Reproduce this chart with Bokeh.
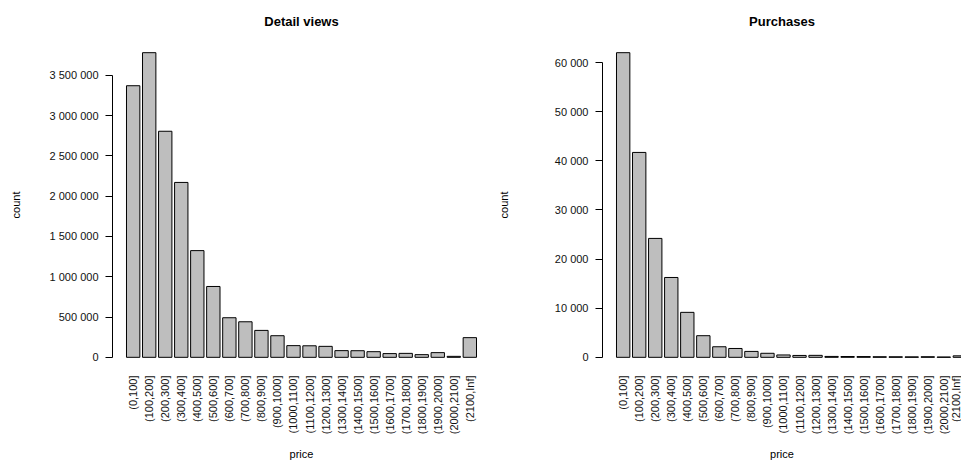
import math

from bokeh.plotting import figure
from bokeh.layouts import row
from bokeh.models import Range1d, FixedTicker, Title, CustomJSTickFormatter
from bokeh.embed import file_html
from bokeh.resources import INLINE

# Price bins (right-closed intervals)
price_bins = [
    "(0,100]", "(100,200]", "(200,300]", "(300,400]", "(400,500]", "(500,600]",
    "(600,700]", "(700,800]", "(800,900]", "(900,1000]", "(1000,1100]", "(1100,1200]",
    "(1200,1300]", "(1300,1400]", "(1400,1500]", "(1500,1600]", "(1600,1700]",
    "(1700,1800]", "(1800,1900]", "(1900,2000]", "(2000,2100]", "(2100,Inf]",
]

# Counts per price bin
detail_views = [
    3370000, 3780000, 2805000, 2170000, 1324000, 879000, 491000, 441000,
    334000, 268000, 145000, 143000, 136000, 83000, 82000, 70000, 46000,
    49000, 33000, 58000, 12000, 244000,
]
purchases = [
    62000, 41700, 24200, 16250, 9150, 4400, 2150, 1800, 1200, 820, 480,
    380, 400, 180, 160, 150, 120, 110, 90, 120, 60, 300,
]

detail_ticks = [0, 500000, 1000000, 1500000, 2000000, 2500000, 3000000, 3500000]
purchase_ticks = [0, 10000, 20000, 30000, 40000, 50000, 60000]

FONT = "Liberation Sans"
BAR_W, SPACE = 1.0, 0.2
n = len(price_bins)
centers = [SPACE + BAR_W / 2 + i * (BAR_W + SPACE) for i in range(n)]
x_lo_edge = SPACE
x_hi_edge = n * (BAR_W + SPACE)
pad = 0.04 * (x_hi_edge - x_lo_edge)
x_start, x_end = x_lo_edge - pad, x_hi_edge + pad

H = 468
BORDER_TOP, BORDER_BOTTOM, BORDER_LEFT = 39, 99, 112
FULL_FRAME_W = 378
px_per_unit = FULL_FRAME_W / (x_end - x_start)

xfmt = CustomJSTickFormatter(
    args=dict(labels=price_bins, first=centers[0], step=BAR_W + SPACE),
    code="const i = Math.round((tick - first) / step); return labels[i] || '';",
)
yfmt = CustomJSTickFormatter(
    code="return Math.round(tick).toString().replace(/\\B(?=(\\d{3})+(?!\\d))/g, ' ');"
)


def panel(title, values, yticks, width, count_standoff, center_shift):
    frame_w = width - BORDER_LEFT
    xr = Range1d(x_start, x_start + frame_w / px_per_unit)
    vmax = max(values)
    yr = Range1d(-0.04 * vmax, 1.04 * vmax)
    p = figure(
        width=width, height=H, x_range=xr, y_range=yr,
        output_backend="svg", toolbar_location=None,
        min_border_left=BORDER_LEFT, min_border_right=0,
        min_border_top=BORDER_TOP, min_border_bottom=BORDER_BOTTOM,
        outline_line_color=None, background_fill_color="white",
        border_fill_color="white",
    )
    p.grid.visible = False
    p.vbar(x=centers, top=values, bottom=0, width=BAR_W,
           fill_color="#bebebe", line_color="black", line_width=1)

    p.title.text = title
    p.title.align = "center"
    p.title.text_font = FONT
    p.title.text_font_size = "13px"
    p.title.text_font_style = "bold"
    p.title.text_color = "black"
    p.title.standoff = 23
    p.title.offset = center_shift

    xa = p.xaxis[0]
    xa.ticker = FixedTicker(ticks=centers)
    xa.formatter = xfmt
    xa.major_label_orientation = math.pi / 2
    xa.axis_line_color = None
    xa.major_tick_line_color = None
    xa.minor_tick_line_color = None
    xa.major_tick_out = 0
    xa.major_tick_in = 0
    xa.major_label_standoff = 6
    xa.major_label_text_font = FONT
    xa.major_label_text_font_size = "11px"
    xa.major_label_text_color = "#111111"

    ya = p.yaxis[0]
    ya.ticker = FixedTicker(ticks=yticks)
    ya.formatter = yfmt
    ya.bounds = (yticks[0], yticks[-1])
    ya.axis_line_color = "black"
    ya.major_tick_line_color = "black"
    ya.minor_tick_line_color = None
    ya.major_tick_out = 7
    ya.major_tick_in = 0
    ya.major_label_standoff = 7
    ya.major_label_text_font = FONT
    ya.major_label_text_font_size = "11px"
    ya.major_label_text_color = "#111111"
    ya.axis_label = "count"
    ya.axis_label_text_font = FONT
    ya.axis_label_text_font_size = "11px"
    ya.axis_label_text_font_style = "normal"
    ya.axis_label_text_color = "black"
    ya.axis_label_standoff = count_standoff

    p.add_layout(Title(text="price", align="center", offset=center_shift,
                       text_font=FONT, text_font_size="11px",
                       text_font_style="normal", text_color="black",
                       standoff=17), "below")
    return p


left = panel("Detail views", detail_views, detail_ticks, 490, 25, 1)
right = panel("Purchases", purchases, purchase_ticks, 471, 42, 10)

layout = row(left, right)
open("out.html", "w").write(file_html(layout, INLINE))
